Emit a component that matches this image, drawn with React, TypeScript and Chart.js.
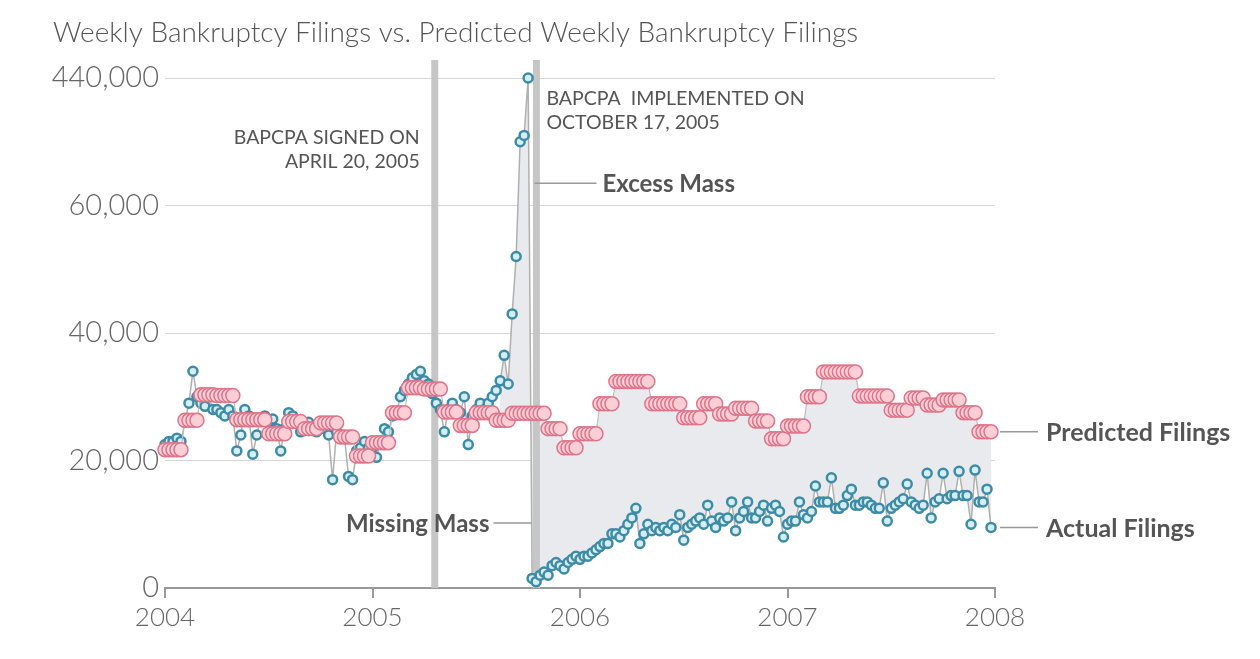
import React, { useEffect, useRef } from "react";
import { Chart, registerables } from "chart.js";
Chart.register(...registerables);

const years = [2004, 2005, 2006, 2007];
const yTicks = [0, 20000, 40000, 60000, 80000];
const topTickLabel = "440,000"; // broken axis: top gridline stands for 440,000

// Actual weekly filings (thousands); the peak week is drawn at the top (broken-axis) line
const actual2004 = [22.5,23,23,23.5,23,26,29,34,30,29, 28.5,30,28,28,27.5,27,28,27,21.5,24, 28,27,21,24,26.5,27,26,26.5,25,21.5, 25,27.5,27,26,24.5,25.5,26,25,24.5,25.5, 25,24,17,24.5,24,23.5,17.5,17,21.5,22, 23,22];
const actual2005 = [22,20.5,23,25,24.5,27,27.5,30,31,32, 33,33.5,34,32.5,32,30.5,29,28,24.5,28, 29,28,27.5,30,22.5,27,28,29,28,29, 30,31,32.5,36.5,32,43,52,70,71, 80, 1.5,1,2,2.5,2,3.5,4,3.5,3,4,4.5,5];
const actual2006 = [4.5,5,5,5.5,6,6.5,7,7,8.5,8.5, 8,9,10,11,12.5,7,8.5,10,9,9.5, 9,9.5,9,10,9.5,11.5,7.5,9.5,10,10.5, 11,10,13,10.5,9.5,11,10.5,11,13.5,9, 11,12,13.5,11,11,12,13,10.5,12.5,13, 12,8];
const actual2007 = [10,10.5,10.5,13.5,11.5,11,12,16,13.5,13.5, 13.5,17.3,12.5,12.5,13,14.5,15.5,13,13,13.5, 13.5,13,12.5,12.5,16.5,10.5,12.5,13,13.5,14, 16.3,13.5,13,12.5,13,18,11,13.5,14,18, 14,14.5,14.5,18.3,14.5,14.5,10,18.5,13.5,13.5, 15.5,9.5];

// Predicted filings, monthly level (thousands)
const predicted2004 = [21.7,26.3,30.3,30.2,26.4,26.4,24.2,26.1,25,25.9,23.7,20.7];
const predicted2005 = [22.8,27.5,31.4,31.2,27.6,25.5,27.5,26.3,27.4,27.4,25,22];
const predicted2006 = [24.2,28.9,32.4,32.4,28.9,28.9,26.7,28.9,27.3,28.2,26.2,23.4];
const predicted2007 = [25.4,30,33.9,33.9,30.1,30.1,27.9,29.8,28.7,29.5,27.5,24.5];

const signedDate = 2005.3;
const implementedDate = 2005.79;

const actualWeekly = [...actual2004, ...actual2005, ...actual2006, ...actual2007];
const predictedMonthly = [predicted2004, predicted2005, predicted2006, predicted2007];

const actualPts = actualWeekly.map((v, i) => ({ x: years[0] + i / 52, y: v * 1000 }));
const predictedPts = actualWeekly.map((_, i) => {
  const yr = Math.floor(i / 52);
  const m = Math.min(11, Math.floor(((i % 52) / 52) * 12));
  return { x: years[0] + i / 52, y: predictedMonthly[yr][m] * 1000 };
});
const fillStart = 84;

const FONT = "Lato, 'Open Sans', sans-serif";

const overlay = {
  id: "overlay",
  beforeDatasetsDraw(chart: any) {
    const { ctx, scales, chartArea } = chart;
    const xs = scales.x, ys = scales.y;
    ctx.save();
    ctx.beginPath();
    for (let i = fillStart; i < actualPts.length; i++) {
      const px = xs.getPixelForValue(actualPts[i].x), py = ys.getPixelForValue(actualPts[i].y);
      i === fillStart ? ctx.moveTo(px, py) : ctx.lineTo(px, py);
    }
    for (let i = predictedPts.length - 1; i >= fillStart; i--) {
      ctx.lineTo(xs.getPixelForValue(predictedPts[i].x), ys.getPixelForValue(predictedPts[i].y));
    }
    ctx.closePath();
    ctx.fillStyle = "#e9eaee";
    ctx.fill();
    ctx.fillStyle = "#c6c6c6";
    for (const d of [signedDate, implementedDate]) {
      const px = xs.getPixelForValue(d);
      ctx.fillRect(px - 3.5, 60, 7, chartArea.bottom - 60);
    }
    ctx.restore();
  },
  afterDraw(chart: any) {
    const { ctx, scales } = chart;
    const xs = scales.x, ys = scales.y;
    ctx.save();
    ctx.fillStyle = "#555";
    ctx.textBaseline = "middle";
    ctx.font = `300 28px ${FONT}`;
    ctx.fillText("Weekly Bankruptcy Filings vs. Predicted Weekly Bankruptcy Filings", 53, 33);

    ctx.font = `19.5px ${FONT}`;
    ctx.textAlign = "right";
    const sx = xs.getPixelForValue(signedDate) - 15;
    ctx.fillText("BAPCPA SIGNED ON", sx, 138);
    ctx.fillText("APRIL 20, 2005", sx, 162);
    ctx.textAlign = "left";
    const ix = xs.getPixelForValue(implementedDate) + 10;
    ctx.fillText("BAPCPA  IMPLEMENTED ON", ix, 99);
    ctx.fillText("OCTOBER 17, 2005", ix, 123);

    ctx.strokeStyle = "#999";
    ctx.lineWidth = 1.5;
    ctx.font = `bold 24px ${FONT}`;
    const ey = ys.getPixelForValue(63500);
    ctx.beginPath(); ctx.moveTo(ix - 12, ey); ctx.lineTo(ix + 50, ey); ctx.stroke();
    ctx.fillText("Excess Mass", ix + 56, ey + 1);
    const my = ys.getPixelForValue(10200);
    ctx.beginPath(); ctx.moveTo(ix - 53, my); ctx.lineTo(ix - 15, my); ctx.stroke();
    ctx.textAlign = "right";
    ctx.fillText("Missing Mass", ix - 57, my + 1);

    ctx.textAlign = "left";
    ctx.font = `bold 25px ${FONT}`;
    const rx = xs.getPixelForValue(years[0] + 4) + 5;
    const lastP = predictedPts[predictedPts.length - 1].y;
    const lastA = actualPts[actualPts.length - 1].y;
    for (const [v, t] of [[lastP, "Predicted Filings"], [lastA, "Actual Filings"]] as [number, string][]) {
      const py = ys.getPixelForValue(v);
      ctx.beginPath(); ctx.moveTo(rx, py); ctx.lineTo(rx + 38, py); ctx.stroke();
      ctx.fillText(t, rx + 46, py + 1);
    }
    ctx.restore();
  },
};

export default function App() {
  const ref = useRef<HTMLCanvasElement>(null);
  useEffect(() => {
    document.body.style.margin = "0";
    const chart = new Chart(ref.current!, {
      type: "line",
      data: {
        datasets: [
          {
            label: "Predicted Filings",
            data: predictedPts,
            order: 0,
            clip: false,
            borderColor: "#bdbdbd",
            borderWidth: 1.2,
            pointRadius: 7,
            pointBorderWidth: 1.5,
            pointBackgroundColor: "#fccfd7",
            pointBorderColor: "#de7389",
          },
          {
            label: "Actual Filings",
            data: actualPts,
            order: 1,
            clip: false,
            borderColor: "#b0b0b0",
            borderWidth: 1.5,
            pointRadius: 4.5,
            pointBorderWidth: 2.5,
            pointBackgroundColor: "#d5eef6",
            pointBorderColor: "#3e8ba5",
          },
        ],
      },
      options: {
        animation: false,
        responsive: false,
        layout: { padding: { left: 0, right: 265, top: 78, bottom: 0 } },
        plugins: { legend: { display: false }, tooltip: { enabled: false } },
        scales: {
          x: {
            type: "linear",
            min: years[0],
            max: years[0] + 4,
            afterFit: (s: any) => { s.height = 71; },
            afterBuildTicks: (s: any) => { s.ticks = [...years, years[0] + 4].map((v) => ({ value: v })); },
            ticks: { callback: (v: any) => String(v), color: "#666", font: { family: FONT, size: 26, weight: 300 }, padding: 4 },
            grid: { drawOnChartArea: false, drawTicks: true, tickLength: 10, color: "#999", lineWidth: 2 },
            border: { color: "#999", width: 2 },
          },
          y: {
            min: 0,
            max: 80000,
            afterFit: (s: any) => { s.width = 165; },
            afterBuildTicks: (s: any) => { s.ticks = yTicks.map((v) => ({ value: v })); },
            ticks: {
              callback: (v: any) => (v === 80000 ? topTickLabel : Number(v).toLocaleString("en-US")),
              color: "#666",
              font: { family: FONT, size: 29, weight: 300 },
              padding: 6,
            },
            grid: { color: "#d6d6d6", drawTicks: false, lineWidth: 1 },
            border: { display: false },
          },
        },
      },
      plugins: [overlay],
    });
    return () => chart.destroy();
  }, []);
  return <canvas ref={ref} width={1260} height={659} style={{ display: "block" }} />;
}
